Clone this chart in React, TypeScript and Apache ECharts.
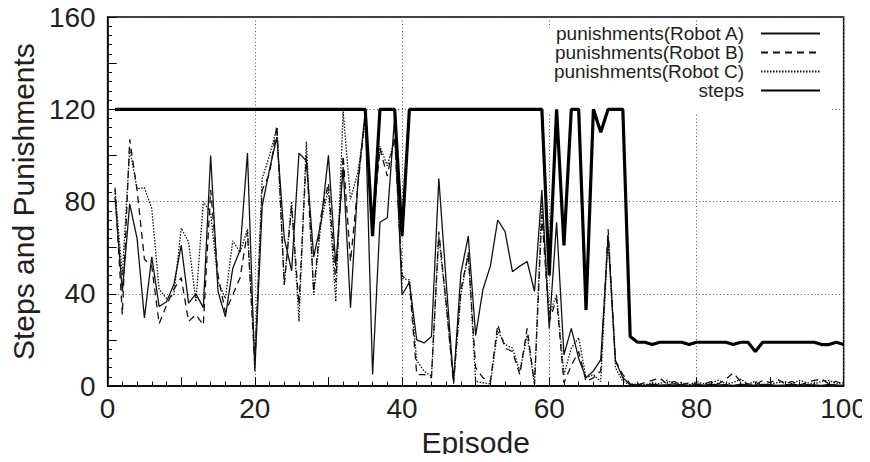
import React, { useEffect, useRef } from "react";
import * as echarts from "echarts";

const episodes: number[] = Array.from({ length: 100 }, (_, i) => i + 1);

const robotA: number[] = [
  82, 41, 79, 64, 29.5, 56, 34.5, 36.6, 44, 61,
  36, 40, 34, 100, 41, 30, 51, 59, 101, 6.5,
  78, 94, 108, 64, 50, 101, 97.7, 56, 71, 100,
  52, 95, 34, 88, 119, 5, 71, 73, 117, 39.5,
  45, 20, 18.7, 21.5, 90, 45, 2, 49, 65, 22,
  42, 52, 72, 67, 49.6, 52, 54, 41, 85, 25,
  71, 13.6, 25, 12, 3.6, 6.5, 11.5, 65, 11, 3.6,
  0.7, 0.5, 0.3, 0.8, 0.4, 0.6, 1, 0.5, 0.3, 0.7,
  0.4, 0.8, 0.5, 0.6, 0.3, 0.9, 0.5, 0.4, 0.7, 0.6,
  0.3, 0.5, 0.8, 0.4, 0.6, 0.5, 0.3, 0.7, 0.5, 0.4,
];

const robotB: number[] = [
  86, 31, 107, 85, 55, 52, 27, 35, 42, 47,
  28, 31, 26.5, 85, 48, 32, 39.5, 47, 67, 9,
  85, 92, 113, 44, 78, 35, 100, 41, 74, 88,
  45, 100, 54, 87, 117, 68, 103, 91, 108, 48,
  45, 5, 5, 3.6, 67, 36, 1, 42, 57, 8,
  3.6, 2, 26.6, 16.5, 15, 5, 25, 0.7, 74, 28,
  38, 1.4, 9, 15, 2, 3.6, 6.5, 68, 11, 5,
  1, 0.5, 1.5, 2.5, 3.5, 1, 2, 0.5, 1.5, 1,
  0.8, 2, 1, 3, 5.7, 2, 1, 0.5, 2.5, 1.5,
  3, 1, 2, 0.5, 1.5, 2.5, 3, 1, 2, 0.8,
];

const robotC: number[] = [
  85, 48, 103, 85.5, 86, 77, 42, 38, 39.5, 68.5,
  62.5, 36.6, 80, 75, 45, 38, 63, 58, 68, 12,
  90, 100, 112, 44, 80, 28, 106, 39.5, 71, 85.5,
  36.6, 119, 81, 92.7, 114, 72, 104, 95.5, 107, 46.7,
  46, 11, 6.5, 4.3, 65, 35, 2, 39.5, 58, 2,
  1.4, 1, 24, 18, 16.5, 6.5, 22, 1, 80, 31,
  39.5, 5, 16.5, 21, 3.6, 5, 2, 65, 8, 2,
  0.5, 1, 0.5, 1.5, 1, 2.5, 1, 1.5, 0.5, 2,
  1, 1.5, 2.5, 1, 1.5, 3, 1, 2, 0.5, 1,
  1.5, 2, 1, 2.5, 1.5, 1, 2, 2.5, 1, 1.5,
];

const steps: number[] = [
  120, 120, 120, 120, 120, 120, 120, 120, 120, 120,
  120, 120, 120, 120, 120, 120, 120, 120, 120, 120,
  120, 120, 120, 120, 120, 120, 120, 120, 120, 120,
  120, 120, 120, 120, 120, 65, 120, 120, 120, 65,
  120, 120, 120, 120, 120, 120, 120, 120, 120, 120,
  120, 120, 120, 120, 120, 120, 120, 120, 120, 48,
  120, 61, 120, 120, 33, 120, 110, 120, 120, 120,
  21.5, 19, 19, 18, 19, 19, 19, 19, 18, 19,
  19, 19, 19, 19, 18, 19, 19, 15, 19, 19,
  19, 19, 19, 19, 19, 19, 18, 18, 19, 18,
];

const xTickLabels: number[] = [0, 20, 40, 60, 80, 100];
const yTickLabels: number[] = [0, 40, 80, 120, 160];

const seriesNames = [
  "punishments(Robot A)",
  "punishments(Robot B)",
  "punishments(Robot C)",
  "steps",
];

const FONT = "'Liberation Sans', Arial, Helvetica, sans-serif";
const TEXT = "#231f20";

export default function App() {
  const ref = useRef<HTMLDivElement>(null);
  useEffect(() => {
    if (!ref.current) return;
    const chart = echarts.init(ref.current, undefined, { renderer: "svg" });
    const pair = (vals: number[]) => episodes.map((e, i) => [e, vals[i]]);
    const option: any = {
      animation: false,
      textStyle: { fontFamily: FONT },
      grid: {
        left: 102,
        right: 25,
        top: 17,
        bottom: 74,
        show: true,
        borderColor: "#000",
        borderWidth: 1.5,
      },
      graphic: [
        {
          type: "rect",
          z: 1,
          shape: { x: 526, y: 28, width: 306, height: 85 },
          style: { fill: "#fff" },
          silent: true,
        },
      ],
      legend: {
        orient: "vertical",
        right: 49,
        top: 24,
        padding: 0,
        align: "right",
        itemWidth: 59,
        itemHeight: 14,
        itemGap: 0,
        selectedMode: false,
        itemStyle: { opacity: 0 },
        textStyle: {
          fontSize: 19,
          color: TEXT,
          fontFamily: FONT,
          padding: [0, 12, 0, 0],
        },
        data: seriesNames,
      },
      xAxis: [
        {
          type: "value",
          min: 0,
          max: 100,
          interval: 10,
          name: "Episode",
          nameLocation: "middle",
          nameGap: 36,
          nameTextStyle: { fontSize: 30, color: TEXT, fontFamily: FONT },
          axisLine: { show: true, lineStyle: { color: "#000", width: 1.5 } },
          axisTick: { show: true, inside: true, length: 9, lineStyle: { color: "#000", width: 1 } },
          minorTick: { show: true, splitNumber: 5, length: 4.5, lineStyle: { color: "#000", width: 1 } },
          axisLabel: {
            fontSize: 28,
            color: TEXT,
            margin: 8,
            fontFamily: FONT,
            formatter: (v: number) => (xTickLabels.includes(v) ? String(v) : ""),
          },
          splitLine: { show: false },
        },
        {
          type: "value",
          min: 0,
          max: 100,
          interval: 20,
          position: "top",
          axisLine: { show: false },
          axisTick: { show: false },
          axisLabel: { show: false },
          splitLine: { show: true, lineStyle: { type: [1, 2.5], color: "#555", width: 1 } },
        },
      ],
      yAxis: [
        {
          type: "value",
          min: 0,
          max: 160,
          interval: 20,
          name: "Steps and Punishments",
          nameLocation: "middle",
          nameRotate: 90,
          nameGap: 62,
          nameTextStyle: { fontSize: 30, color: TEXT, fontFamily: FONT },
          axisLine: { show: true, lineStyle: { color: "#000", width: 1.5 } },
          axisTick: { show: true, inside: true, length: 9, lineStyle: { color: "#000", width: 1 } },
          minorTick: { show: true, splitNumber: 5, length: 4.5, lineStyle: { color: "#000", width: 1 } },
          axisLabel: {
            fontSize: 28,
            color: TEXT,
            margin: 12,
            fontFamily: FONT,
            formatter: (v: number) => (yTickLabels.includes(v) ? String(v) : ""),
          },
          splitLine: { show: false },
        },
        {
          type: "value",
          min: 0,
          max: 160,
          interval: 40,
          position: "right",
          axisLine: { show: false },
          axisTick: { show: false },
          axisLabel: { show: false },
          splitLine: { show: true, lineStyle: { type: [1, 2.5], color: "#555", width: 1 } },
        },
      ],
      series: [
        {
          name: seriesNames[0],
          type: "line",
          data: pair(robotA),
          symbol: "none",
          lineStyle: { color: "#111", width: 1.3, type: "solid" },
          itemStyle: { color: "#111" },
        },
        {
          name: seriesNames[1],
          type: "line",
          data: pair(robotB),
          symbol: "none",
          lineStyle: { color: "#111", width: 1.3, type: [7, 5] },
          itemStyle: { color: "#111" },
        },
        {
          name: seriesNames[2],
          type: "line",
          data: pair(robotC),
          symbol: "none",
          lineStyle: { color: "#111", width: 1.3, type: [1.5, 1.5] },
          itemStyle: { color: "#111" },
        },
        {
          name: seriesNames[3],
          type: "line",
          data: pair(steps),
          symbol: "none",
          lineStyle: { color: "#000", width: 3.2, type: "solid" },
          itemStyle: { color: "#000" },
        },
      ],
    };
    chart.setOption(option);
    return () => chart.dispose();
  }, []);
  return <div ref={ref} style={{ width: 870, height: 462, margin: -8 }} />;
}
